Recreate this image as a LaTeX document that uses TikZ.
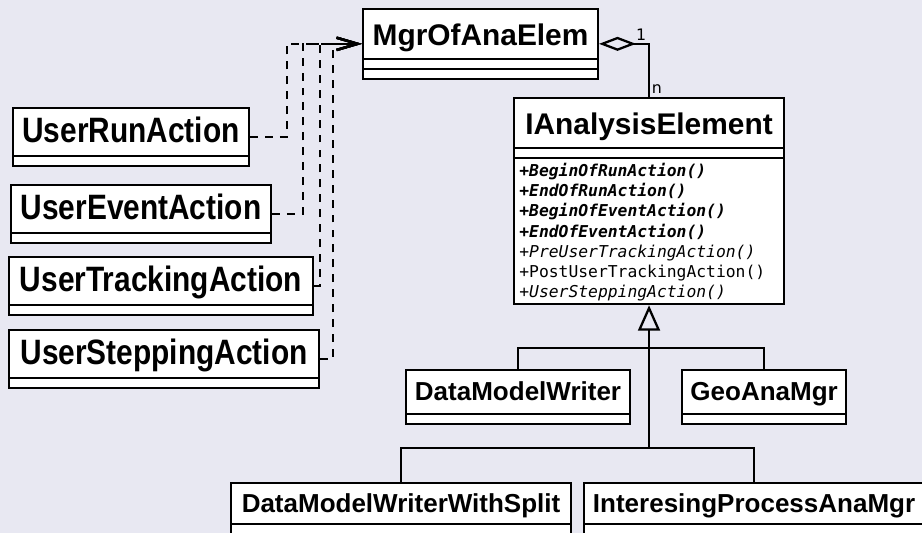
\documentclass[tikz,border=0pt]{standalone}
\usepackage{graphicx}
\usepackage{fontspec}
\setmainfont{Liberation Sans}
\newfontfamily\monofam{DejaVu Sans Mono}
\newfontfamily\labelfam{DejaVu Sans}
\usetikzlibrary{shapes.multipart, arrows.meta, positioning}
\definecolor{bgcol}{RGB}{232,232,242}
% struts giving the compartments their heights
\newcommand{\bigtitle}[1]{\rule[-7pt]{0pt}{27.2pt}#1}
\newcommand{\usertitle}[1]{\rule[-7pt]{0pt}{26pt}\scalebox{1}[1.18]{#1}}
\newcommand{\midtitle}[1]{\rule[-7pt]{0pt}{23.8pt}#1}
\newcommand{\lowtitle}[1]{\rule[-6pt]{0pt}{22.1pt}#1}
\newcommand{\emptypart}{\rule{0pt}{4.4pt}}

\begin{document}
\begin{tikzpicture}[x=0.02cm, y=-0.02cm]
    % Define the styles for the class boxes and the connectors
    \tikzset{
        classbox/.style={rectangle split, rectangle split parts=2, draw, line width=1.2pt, fill=white, inner xsep=3pt, inner ysep=0pt},
        bigclass/.style={classbox, anchor=north west, font=\bfseries\fontsize{17}{20}\selectfont},
        midclass/.style={classbox, font=\bfseries\fontsize{14.8}{18}\selectfont},
        dep/.style={line width=1.1pt, dash pattern=on 4.5pt off 4pt, -{Straight Barb[length=12pt, width=7pt, line width=1.4pt]}},
        assoc/.style={line width=1.3pt},
        mult/.style={font=\labelfam\fontsize{9}{10}\selectfont, inner sep=1pt}
    }

    % Background and frame of the picture
    \useasboundingbox[fill=bgcol] (0,0) rectangle (922,533);
    \clip (0,0) rectangle (922,533);

    % Draw the manager and the analysis element interface
    \node[bigclass, rectangle split parts=3, minimum width=4.70cm] (mgr) at (362,8) {\bigtitle{MgrOfAnaElem}\nodepart{two}\emptypart\nodepart{three}\emptypart};
    \node[bigclass, rectangle split parts=3, minimum width=5.40cm, rectangle split part align={center, center, left}] (ana) at (513,97) {\bigtitle{IAnalysisElement}\nodepart{two}\emptypart\nodepart{three}%
        {\monofam\mdseries\upshape\fontsize{9.3}{11.4}\selectfont
        \begin{tabular}{@{}l@{}}
            \rule{0pt}{10.3pt}\textbf{\textit{+BeginOfRunAction()}}\\
            \textbf{\textit{+EndOfRunAction()}}\\
            \textbf{\textit{+BeginOfEventAction()}}\\
            \textbf{\textit{+EndOfEventAction()}}\\
            \textit{+PreUserTrackingAction()}\\
            +PostUserTrackingAction()\\
            \textit{+UserSteppingAction()}
        \end{tabular}\rule[-2pt]{0pt}{2pt}}};

    % Draw the user action classes
    \node[bigclass, minimum width=4.72cm] (urun) at (12,107) {\usertitle{UserRunAction}\nodepart{two}\emptypart};
    \node[bigclass, minimum width=5.20cm] (uevt) at (10,184) {\usertitle{UserEventAction}\nodepart{two}\emptypart};
    \node[bigclass, minimum width=6.08cm] (utrk) at (8,256) {\usertitle{UserTrackingAction}\nodepart{two}\emptypart};
    \node[bigclass, minimum width=6.20cm] (ustp) at (8,329) {\usertitle{UserSteppingAction}\nodepart{two}\emptypart};

    % Draw the concrete analysis elements
    \node[midclass, anchor=north west, minimum width=4.48cm] (dmw) at (405,369) {\midtitle{DataModelWriter}\nodepart{two}\emptypart};
    \node[midclass, right=1cm of dmw, minimum width=3.28cm] (geo) {\midtitle{GeoAnaMgr}\nodepart{two}\emptypart};
    \node[midclass, anchor=north west, minimum width=6.80cm] (split) at (230,482) {\lowtitle{DataModelWriterWithSplit}\nodepart{two}\emptypart};
    \node[midclass, right=0.22cm of split, minimum width=6.80cm] (ipa) {\lowtitle{InteresingProcessAnaMgr}\nodepart{two}\emptypart};

    % Dependencies of the user actions on the manager
    \foreach \src/\xbus in {urun/287, uevt/303, utrk/320, ustp/333}
        \draw[dep] (\src.east) -| (\xbus,0 |- mgr.west) -- (mgr.west);

    % Aggregation of the analysis elements
    \draw[assoc, {Diamond[open, length=21pt, width=8pt, line width=1.3pt]}-] (mgr.east) -| (ana.north)
        node[mult, pos=0.5, above left] {1}
        node[mult, pos=0.93, right] {n};

    % Generalisation tree
    \coordinate (hub1) at (ana.south |- 0,348);
    \coordinate (hub2) at (ana.south |- 0,448);
    \draw[assoc, -{Triangle[open, length=14.5pt, width=12.5pt, line width=1.3pt]}] (hub2) -- (ana.south);
    \draw[assoc] (dmw.north) |- (hub1) -| (geo.north);
    \draw[assoc] (split.north) |- (hub2) -| (ipa.north);
\end{tikzpicture}
\end{document}
